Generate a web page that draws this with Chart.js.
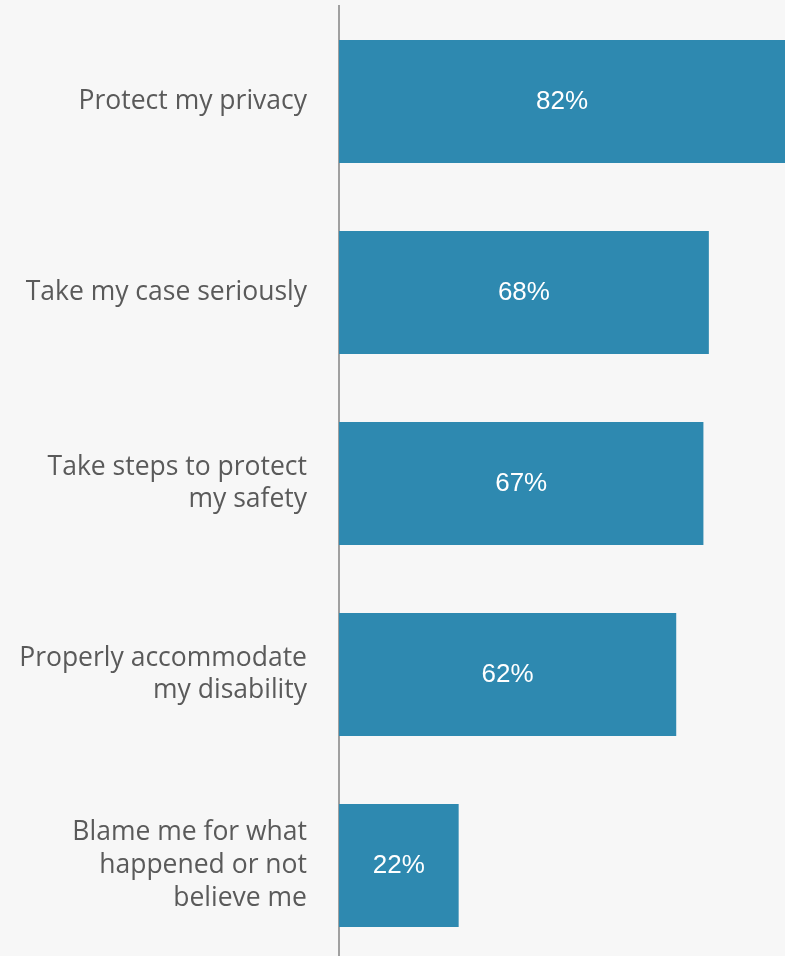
<!DOCTYPE html>
<html>
<head>
<meta charset="utf-8">
<script src="https://cdn.jsdelivr.net/npm/chart.js@4/dist/chart.umd.min.js"></script>
<style>
  html, body { margin: 0; padding: 0; background: #f7f7f7; overflow: hidden; }
  canvas { display: block; }
</style>
</head>
<body>
<!-- a little taller than the window: the plot runs past the bottom edge -->
<canvas id="myChart" width="785" height="961"></canvas>
<script>
    // categories (multi-line labels as arrays) and their percentages
    const categories = [
        'Protect my privacy',
        'Take my case seriously',
        ['Take steps to protect', 'my safety'],
        ['Properly accommodate', 'my disability'],
        ['Blame me for what', 'happened or not', 'believe me']
    ];
    const percentValues = [82, 68, 67, 62, 22];

    // paints the background and writes the value inside each bar
    const valueLabels = {
        id: 'valueLabels',
        beforeDraw(chart) {
            const ctx = chart.ctx;
            ctx.save();
            ctx.fillStyle = '#f7f7f7';
            ctx.fillRect(0, 0, chart.width, chart.height);
            ctx.restore();
        },
        afterDatasetsDraw(chart) {
            const ctx = chart.ctx;
            const meta = chart.getDatasetMeta(0);
            ctx.save();
            ctx.font = '26px "Liberation Sans", Arial, sans-serif';
            ctx.fillStyle = '#ffffff';
            ctx.textAlign = 'center';
            ctx.textBaseline = 'middle';
            meta.data.forEach((bar, i) => {
                const cx = (bar.x + bar.base) / 2;
                ctx.fillText(percentValues[i] + '%', cx, bar.y);
            });
            ctx.restore();
        }
    };

    const ctx = document.getElementById('myChart').getContext('2d');
    new Chart(ctx, {
        type: 'bar',
        data: {
            labels: categories,
            datasets: [{
                data: percentValues,
                backgroundColor: '#2e89b0',
                borderWidth: 0,
                barPercentage: 0.644,
                categoryPercentage: 1.0
            }]
        },
        options: {
            indexAxis: 'y',
            responsive: false,
            animation: false,
            layout: { padding: { top: 6, right: 0, bottom: 0, left: 0 } },
            plugins: {
                legend: { display: false },
                tooltip: { enabled: false }
            },
            scales: {
                x: {
                    display: false,
                    min: 0,
                    max: 82
                },
                y: {
                    // fixed axis width, no extra room above/below for the labels
                    afterFit(scale) {
                        scale.width = 339;
                        scale.paddingTop = 0;
                        scale.paddingBottom = 0;
                    },
                    grid: { display: false },
                    border: { display: true, color: '#a0a0a0', width: 2 },
                    ticks: {
                        padding: 24,
                        color: '#5a5a5a',
                        font: { family: '"Open Sans", sans-serif', size: 26.5, lineHeight: 1.23 }
                    }
                }
            }
        },
        plugins: [valueLabels]
    });
</script>
</body>
</html>
